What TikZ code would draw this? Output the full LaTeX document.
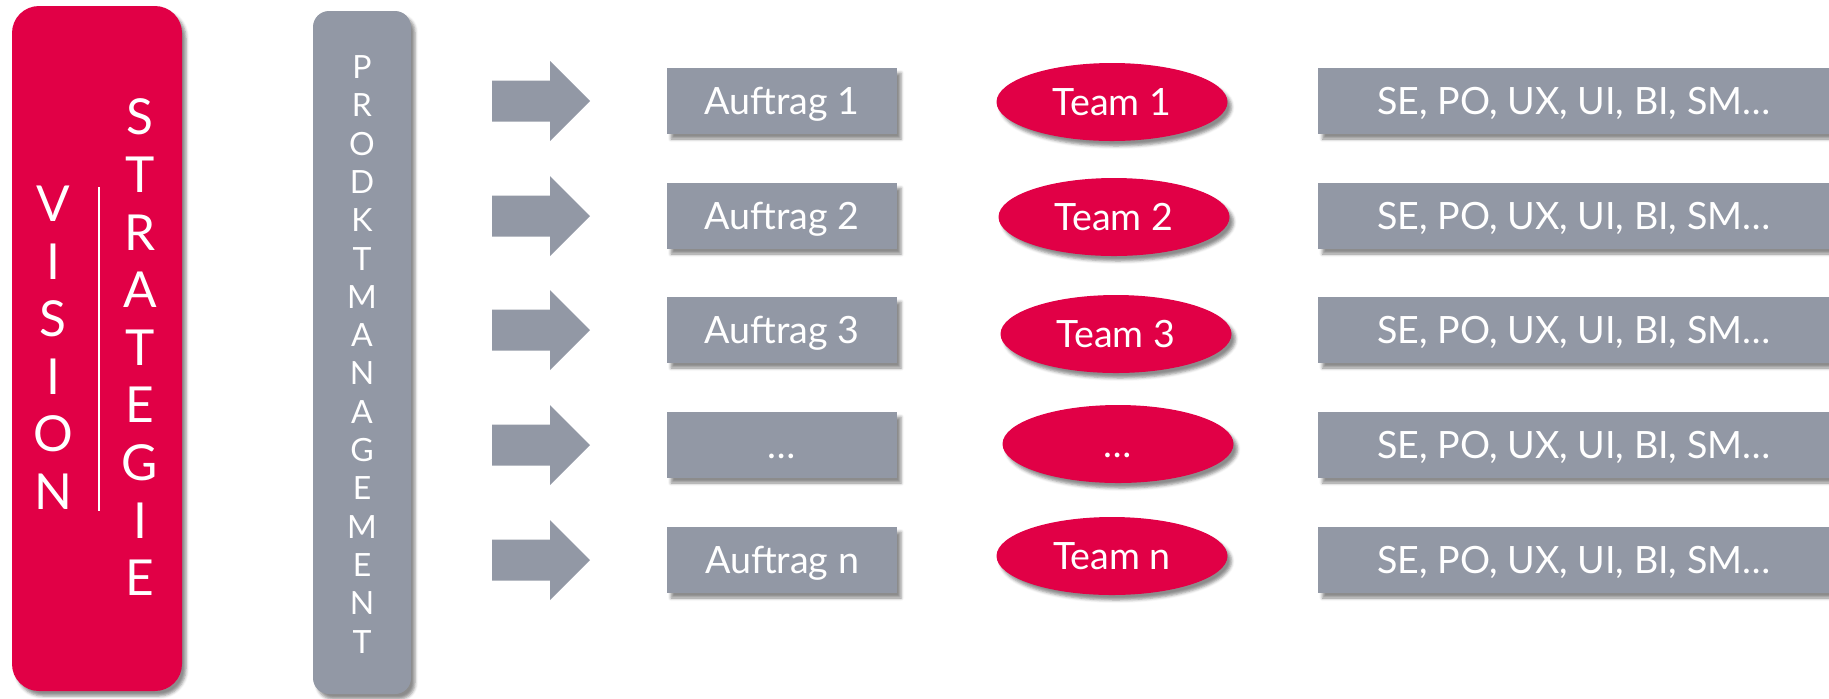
\documentclass[tikz,border=0pt]{standalone}
\usepackage{fontspec}
\setmainfont{Lato}
\usepackage{tikz}
\usepackage{xcolor}
\usetikzlibrary{shapes.geometric,shadows.blur}

\definecolor{vred}{RGB}{225,0,70}
\definecolor{vgray}{RGB}{146,152,165}

\begin{document}
\begin{tikzpicture}[x=0.5pt, y=-0.5pt,
	schatten/.style={blur shadow={shadow xshift=2pt, shadow yshift=-2.5pt, shadow blur radius=1.5pt, shadow opacity=45}},
	kasten/.style={fill=vgray, text=white, inner sep=0pt, text height=13.5pt, text depth=0pt, font=\fontsize{18.8}{22}\selectfont, schatten},
	auftrag/.style={kasten, minimum width=115pt, minimum height=33pt},
	rolle/.style={kasten, anchor=west, minimum width=255.5pt, minimum height=33pt},
	team/.style={kasten, ellipse, fill=vred, minimum width=115.5pt, minimum height=39pt},
	gross/.style={text=white, inner sep=0pt, text height=17.8pt, text depth=0pt, font=\fontsize{24.8}{28}\selectfont},
	klein/.style={text=white, inner sep=0pt, text height=11.5pt, text depth=0pt, font=\fontsize{16}{18}\selectfont},
	]
	\useasboundingbox (0,0) rectangle (1829,698);
	% linke Balken
	\node[fill=vred, rounded corners=13.5pt, minimum width=85pt, minimum height=342.5pt, schatten] (vision) at (97,348.5) {};
	\node[fill=vgray, rounded corners=8pt, minimum width=49pt, minimum height=341.5pt, schatten] (pm) at (362,352.5) {};
	\draw[white, line width=1pt] (99,187) -- (99,511);
	\foreach \l [count=\i] in {V,I,S,I,O,N}
	{
		\node[gross] (vis\i) at (53,204+57.5*\i-57.5) {\l};
	}
	\foreach \l [count=\i] in {S,T,R,A,T,E,G,I,E}
	{
		\node[gross] (str\i) at (140,117+57.6*\i-57.6) {\l};
	}
	\foreach \l [count=\i] in {P,R,O,D,K,T,M,A,N,A,G,E,M,E,N,T}
	{
		\node[klein] (pm\i) at (362,67+38.3*\i-38.3) {\l};
	}
	% Zeilen
	\foreach \y/\auftrag/\team/\tx/\ty [count=\i] in {101/Auftrag 1/Team 1/1112/102, 216/Auftrag 2/Team 2/1114/217, 330/Auftrag 3/Team 3/1116/334, 445/…/…/1118/444, 560/Auftrag n/Team n/1112/556}
	{
		\fill[color=vgray] (492,\y-20.5) -- (550,\y-20.5) -- (550,\y-40) -- (590,\y) -- (550,\y+40) -- (550,\y+20.5) -- (492,\y+20.5) -- cycle;
		\node[auftrag] (auftrag\i) at (782,\y) {\auftrag};
		\node[team] (team\i) at (\tx,\ty) {\team};
		\node[rolle] (rolle\i) at (1318,\y) {SE, PO, UX, UI, BI, SM…};
	}
\end{tikzpicture}
\end{document}
